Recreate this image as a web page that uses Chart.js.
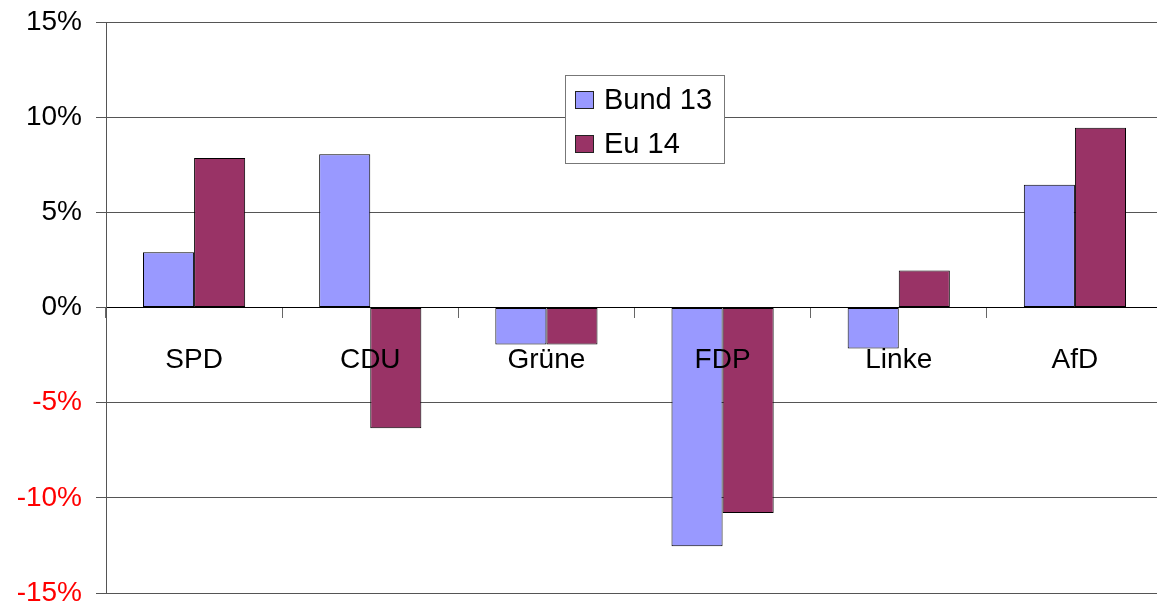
<!DOCTYPE html>
<html>
<head>
<meta charset="utf-8">
<script src="https://cdn.jsdelivr.net/npm/chart.js@4"></script>
<style>
  html, body { margin: 0; padding: 0; background: #fff; overflow: hidden; }
  #wrap { width: 1163px; height: 608px; }
</style>
</head>
<body>
<div id="wrap"><canvas id="chart" width="1163" height="608"></canvas></div>
<script>
// Parties and the change in vote share (percentage points)
const parties = ['SPD', 'CDU', 'Grüne', 'FDP', 'Linke', 'AfD'];
const bund13 = [2.9, 8.05, -1.95, -12.55, -2.15, 6.45];
const eu14 = [7.85, -6.35, -1.95, -10.8, 1.95, 9.45];
const yTicks = [-15, -10, -5, 0, 5, 10, 15];

const FONT = "'Liberation Sans', Arial, sans-serif";

// Legend drawn as a boxed overlay inside the plot, like the original
const boxLegend = {
    id: 'boxLegend',
    afterDraw(chart) {
        const ctx = chart.ctx;
        const x = 565, y = 75, w = 159, h = 88;
        ctx.save();
        ctx.fillStyle = '#fff';
        ctx.fillRect(x, y, w, h);
        ctx.strokeStyle = '#777';
        ctx.lineWidth = 1;
        ctx.strokeRect(x + 0.5, y + 0.5, w, h);
        ctx.font = '29px ' + FONT;
        ctx.textBaseline = 'middle';
        chart.data.datasets.forEach((ds, i) => {
            const rowY = y + 25 + i * 44;
            ctx.fillStyle = ds.backgroundColor;
            ctx.fillRect(x + 10, rowY - 9, 19, 18);
            ctx.strokeStyle = '#222';
            ctx.strokeRect(x + 10.5, rowY - 8.5, 18, 17);
            ctx.fillStyle = '#000';
            ctx.fillText(ds.label, x + 39, rowY + 1);
        });
        ctx.restore();
    }
};

new Chart(document.getElementById('chart'), {
    type: 'bar',
    data: {
        labels: parties,
        datasets: [
            { label: 'Bund 13', data: bund13, backgroundColor: '#9999FF', borderColor: '#000', borderWidth: 1, borderSkipped: false },
            { label: 'Eu 14', data: eu14, backgroundColor: '#993366', borderColor: '#000', borderWidth: 1, borderSkipped: false }
        ]
    },
    options: {
        responsive: false,
        animation: false,
        layout: { padding: { top: 22, bottom: 15, left: 0, right: 0 } },
        plugins: {
            legend: { display: false },
            tooltip: { enabled: false }
        },
        datasets: {
            bar: { categoryPercentage: 0.58, barPercentage: 1.0 }
        },
        scales: {
            x: {
                position: { y: 0 },
                offset: true,
                afterFit(scale) {
                    scale.paddingLeft = 0; scale.paddingRight = 0;
                    scale.paddingTop = 0; scale.paddingBottom = 0;
                },
                grid: {
                    offset: true,
                    drawOnChartArea: false,
                    drawTicks: true,
                    tickLength: 10,
                    color: '#666'
                },
                border: { display: true, color: '#000', width: 1 },
                ticks: {
                    z: 1, // party names sit on top of the bars
                    color: '#000',
                    padding: 26,
                    font: { family: FONT, size: 28 }
                }
            },
            y: {
                min: -15,
                max: 15,
                afterFit(scale) {
                    scale.width = 106;
                    scale.paddingTop = 0; scale.paddingBottom = 0;
                },
                afterBuildTicks(scale) { scale.ticks = yTicks.map(v => ({ value: v })); },
                grid: { color: '#555', tickLength: 10, drawTicks: true },
                border: { display: true, color: '#555', width: 1 },
                ticks: {
                    padding: 14,
                    color: c => (c.tick && c.tick.value < 0 ? '#FF0000' : '#000'),
                    font: { family: FONT, size: 28 },
                    callback: v => v + '%'
                }
            }
        }
    },
    plugins: [boxLegend]
});
</script>
</body>
</html>
